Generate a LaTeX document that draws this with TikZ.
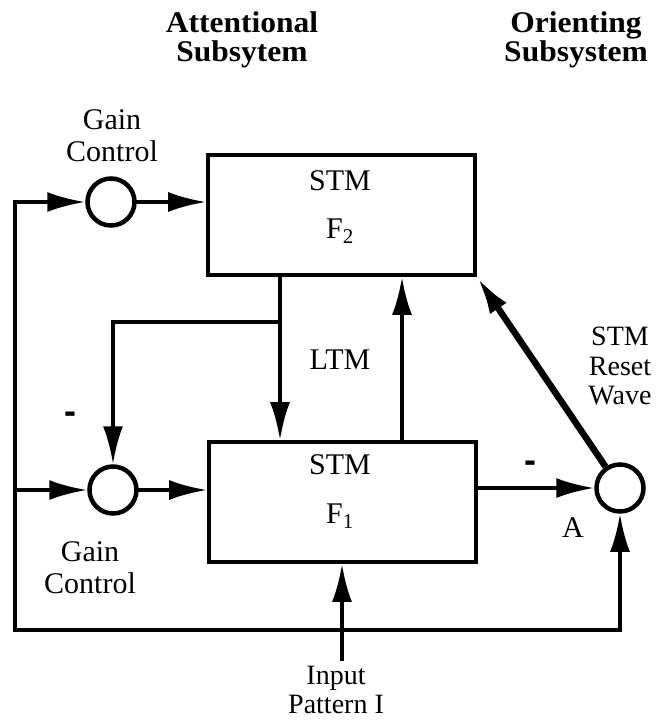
\documentclass[tikz,border=0pt]{standalone}
\usepackage{fontspec}
\setmainfont{Liberation Serif}
\newfontfamily\titlefont[FakeStretch=1.05]{Liberation Serif}
\newfontfamily\barfont{Liberation Sans}
\usetikzlibrary{arrows.meta}

\begin{document}
\begin{tikzpicture}[x=1pt, y=-1pt, line width=3.8pt, line cap=rect,
  >={Latex[length=38pt,width=20pt]},
  box/.style={draw, minimum width=267pt, minimum height=120pt, inner sep=0pt},
  gain/.style={draw, circle, line width=4.5pt, minimum size=47pt, inner sep=0pt},
  lbl/.style={font=\fontsize{30}{32}\selectfont, align=center, inner sep=0pt},
  tight/.style={font=\fontsize{28}{29.5}\selectfont},
  ttl/.style={font=\titlefont\fontsize{30}{29}\selectfont\bfseries, align=center, inner sep=0pt},
  minus/.style={font=\barfont\fontsize{36}{36}\selectfont\bfseries, inner sep=0pt}]
  \useasboundingbox (0,0) rectangle (661,724);

  % titles
  \node[ttl] (att) at (242,40) {Attentional\\Subsytem};
  \node[ttl] (ori) at (576,40) {Orienting\\Subsystem};

  % boxes and gain circles
  \node[box] (f2) at (341.5,215) {};
  \node[box] (f1) at (342.5,502) {};
  \node[lbl] (f2stm) at (340,181) {STM};
  \node[lbl] (f2name) at (340,231) {F\textsubscript{2}};
  \node[lbl] (f1stm) at (340,465) {STM};
  \node[lbl] (f1name) at (340,516) {F\textsubscript{1}};
  \node[gain] (gtop) at (111,202) {};
  \node[gain] (gbot) at (113,490) {};
  \node[gain] (reset) at (620,488) {};

  % labels
  \node[lbl] (gtoplbl) at (112,136) {Gain\\Control};
  \node[lbl] (gbotlbl) at (90,568) {Gain\\Control};
  \node[lbl] (ltm) at (340,360) {LTM};
  \node[lbl, tight] (wave) at (620,366) {STM\\Reset\\Wave};
  \node[lbl] (albl) at (573,528) {A};
  \node[lbl, tight] (inp) at (336,690) {Input\\Pattern I};
  \node[minus] (mleft) at (70,418) {-};
  \node[minus] (mright) at (530,467) {-};

  % corners of the outer loop
  \coordinate (tl) at (15,202);
  \coordinate (ml) at (15,490);
  \coordinate (bl) at (15,630);
  \coordinate (split) at (280,322);
  \coordinate (upx) at (402,0);
  \coordinate (inx) at (342,659);

  % connectors
  \draw[->] (tl) -- (gtop);
  \draw[->] (tl) -- (bl) -| (reset);
  \draw[->] (gtop) -- (gtop -| f2.west);
  \draw[->] (ml) -- (gbot);
  \draw[->] (gbot) -- (gbot -| f1.west);
  \draw[->] (f2.south -| split) -- (f1.north -| split);
  \draw[->] (split) -| (gbot);
  \draw[->] (f1.north -| upx) -- (f2.south -| upx);
  \draw[->] (reset -| f1.east) -- (reset);
  \draw[->, line width=6.5pt, line cap=butt] (reset) -- (f2.south east);
  \draw[->] (inx) -- (f1.south -| inx);
\end{tikzpicture}
\end{document}
